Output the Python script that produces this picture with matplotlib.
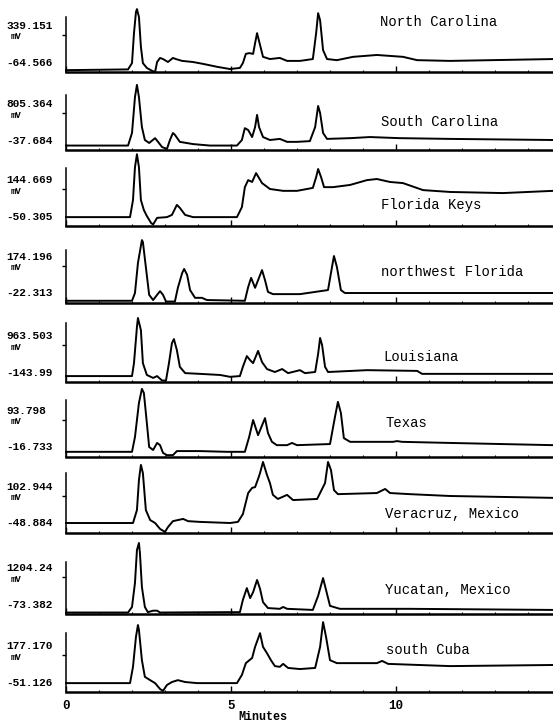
import numpy as np
import matplotlib.pyplot as plt

# retention time (minutes) and detector signal (% of the labelled mV range,
# 0 = lower label, 100 = upper label)
t_nc = [0, 1.88, 2.0, 2.06, 2.12, 2.15, 2.21, 2.27, 2.33, 2.45, 2.61, 2.70, 2.76, 2.85, 2.94, 3.09,
        3.24, 3.33, 3.52, 3.85, 4.15, 4.58, 4.97, 5.27, 5.36, 5.45, 5.55, 5.67, 5.73, 5.79, 5.97,
        6.18, 6.48, 6.70, 7.09, 7.48, 7.58, 7.64, 7.70, 7.79, 7.91, 8.21, 8.70, 9.42, 10.21, 10.64,
        11.64, 14.76]
s_nc = [5, 7, 24, 105, 162, 170, 149, 68, 24, 11, 3, 0, 27, 38, 35, 27, 38, 35, 30, 27, 22, 14, 8,
        11, 24, 49, 51, 49, 78, 105, 41, 35, 38, 30, 30, 35, 105, 159, 140, 59, 35, 32, 41, 46, 41,
        32, 30, 35]

t_sc = [0, 1.88, 2.0, 2.09, 2.15, 2.21, 2.30, 2.39, 2.52, 2.70, 2.79, 2.91, 3.06, 3.15, 3.24, 3.30,
        3.45, 3.85, 4.36, 5.18, 5.33, 5.42, 5.52, 5.64, 5.73, 5.79, 5.85, 5.97, 6.18, 6.48, 6.70,
        7.0, 7.39, 7.55, 7.64, 7.70, 7.79, 7.91, 8.61, 9.21, 10.12, 11.64, 14.76]
s_sc = [12, 12, 46, 143, 176, 143, 62, 27, 19, 32, 22, 8, 3, 27, 46, 41, 22, 16, 12, 12, 27, 59, 54,
        35, 62, 95, 62, 35, 27, 30, 22, 22, 24, 62, 119, 100, 46, 30, 32, 35, 32, 30, 27]

t_fk = [0, 1.94, 2.03, 2.09, 2.15, 2.21, 2.27, 2.36, 2.45, 2.58, 2.64, 2.76, 3.06, 3.21, 3.36, 3.45,
        3.61, 3.85, 5.18, 5.33, 5.42, 5.52, 5.64, 5.76, 5.94, 6.18, 6.58, 7.0, 7.48, 7.58, 7.64,
        7.73, 7.82, 8.09, 8.61, 9.12, 9.42, 9.82, 10.21, 10.82, 11.64, 13.24, 14.76]
s_fk = [24, 24, 70, 159, 194, 159, 70, 43, 27, 8, 4, 22, 24, 30, 57, 49, 30, 24, 24, 51, 105, 124,
        119, 143, 116, 100, 95, 95, 103, 132, 154, 132, 105, 105, 111, 124, 127, 119, 116, 97, 92,
        89, 95]

t_nwf = [0, 2.0, 2.09, 2.18, 2.30, 2.33, 2.42, 2.52, 2.64, 2.76, 2.85, 2.94, 3.03, 3.30, 3.39, 3.52,
         3.58, 3.67, 3.76, 3.91, 4.12, 4.27, 5.42, 5.52, 5.61, 5.73, 5.94, 6.03, 6.12, 6.27, 7.09,
         7.94, 8.06, 8.12, 8.21, 8.33, 8.45, 14.76]
s_nwf = [6, 6, 27, 108, 170, 165, 97, 22, 8, 22, 32, 22, 4, 4, 41, 81, 92, 76, 35, 14, 14, 8, 6, 43,
         68, 41, 89, 62, 30, 24, 24, 35, 97, 127, 97, 35, 27, 27]

t_la = [0, 2.0, 2.06, 2.15, 2.18, 2.27, 2.33, 2.45, 2.64, 2.76, 2.91, 3.03, 3.12, 3.21, 3.27, 3.36,
        3.45, 3.61, 4.06, 4.67, 4.97, 5.27, 5.36, 5.48, 5.58, 5.67, 5.82, 5.94, 6.09, 6.33, 6.55,
        6.73, 7.09, 7.24, 7.55, 7.64, 7.70, 7.76, 7.85, 7.94, 9.12, 10.64, 10.79, 14.76]
s_la = [16, 16, 51, 149, 173, 140, 51, 19, 11, 16, 4, 4, 51, 105, 116, 86, 41, 24, 22, 19, 14, 16,
        41, 70, 59, 51, 84, 54, 35, 27, 35, 24, 32, 24, 27, 76, 119, 100, 41, 27, 32, 30, 22, 22]

t_tx = [0, 2.0, 2.09, 2.21, 2.30, 2.36, 2.45, 2.52, 2.64, 2.76, 2.85, 2.94, 3.06, 3.24, 3.36, 4.06,
        4.88, 5.42, 5.55, 5.67, 5.82, 6.03, 6.12, 6.24, 6.39, 6.70, 6.85, 7.0, 8.0, 8.15, 8.24,
        8.33, 8.42, 8.61, 9.91, 10.03, 10.18, 11.64, 14.76]
s_tx = [14, 14, 54, 146, 184, 173, 92, 27, 19, 38, 32, 11, 5, 5, 16, 16, 14, 14, 54, 100, 59, 105,
        65, 41, 32, 32, 38, 32, 35, 108, 149, 119, 51, 41, 41, 43, 41, 38, 32]

t_vm = [0, 2.03, 2.15, 2.21, 2.27, 2.33, 2.42, 2.55, 2.70, 2.85, 3.0, 3.09, 3.24, 3.39, 3.55, 3.70,
        4.06, 4.97, 5.21, 5.36, 5.52, 5.64, 5.73, 5.82, 5.88, 5.97, 6.09, 6.18, 6.27, 6.42, 6.70,
        6.88, 7.61, 7.85, 7.94, 8.03, 8.12, 8.24, 9.42, 9.67, 9.82, 10.42, 11.64, 14.76]
s_vm = [27, 27, 62, 143, 184, 162, 62, 35, 27, 11, 3, 16, 32, 35, 38, 32, 30, 27, 30, 51, 108, 122,
        124, 146, 162, 192, 157, 135, 103, 92, 103, 89, 92, 135, 192, 170, 116, 105, 108, 119, 108,
        105, 100, 95]

t_ym = [0, 1.88, 2.0, 2.09, 2.15, 2.21, 2.24, 2.30, 2.39, 2.48, 2.64, 2.76, 2.85, 4.88, 5.27, 5.36,
        5.48, 5.58, 5.67, 5.79, 5.88, 5.97, 6.12, 6.48, 6.58, 6.70, 7.48, 7.64, 7.79, 7.88, 8.0,
        8.30, 10.42, 14.76]
s_ym = [4, 4, 19, 84, 173, 192, 165, 73, 19, 5, 9, 9, 4, 5, 5, 38, 70, 43, 59, 92, 68, 32, 16, 14,
        19, 14, 11, 49, 97, 65, 22, 14, 14, 11]

t_cu = [0, 1.94, 2.03, 2.12, 2.18, 2.21, 2.30, 2.39, 2.55, 2.70, 2.85, 2.94, 3.06, 3.21, 3.39, 3.61,
        3.97, 5.18, 5.33, 5.45, 5.64, 5.73, 5.88, 5.97, 6.09, 6.21, 6.33, 6.48, 6.58, 6.73, 7.09,
        7.55, 7.70, 7.79, 7.88, 8.0, 8.21, 9.42, 9.58, 9.76, 11.64, 14.76]
s_cu = [24, 24, 68, 149, 181, 168, 86, 41, 32, 24, 8, 3, 19, 27, 32, 27, 24, 24, 46, 78, 92, 122,
        159, 122, 105, 86, 70, 68, 76, 65, 62, 65, 122, 189, 149, 86, 78, 78, 84, 76, 70, 73]

sites = ['North Carolina', 'South Carolina', 'Florida Keys', 'northwest Florida', 'Louisiana',
         'Texas', 'Veracruz, Mexico', 'Yucatan, Mexico', 'south Cuba']
hi_labels = ['339.151', '805.364', '144.669', '174.196', '963.503', '93.798', '102.944',
             '1204.24', '177.170']
lo_labels = ['-64.566', '-37.684', '-50.305', '-22.313', '-143.99', '-16.733', '-48.884',
             '-73.382', '-51.126']
times = [t_nc, t_sc, t_fk, t_nwf, t_la, t_tx, t_vm, t_ym, t_cu]
signals = [s_nc, s_sc, s_fk, s_nwf, s_la, s_tx, s_vm, s_ym, s_cu]

# layout in pixels of the 553x725 page
W, H = 553, 725
x0 = 66
t_max = (W - x0) / 33.0
axis_y = [72, 150, 226, 303, 382, 457, 533, 614, 692]
spine_h = [55, 55, 58, 53, 59, 57, 60, 52, 59]
tick_h = 37
site_xy = [(380, 22), (381, 122), (381, 205), (381, 272), (383, 357), (385, 423),
           (385, 514), (385, 590), (386, 650)]

fig = plt.figure(figsize=(W / 100, H / 100), dpi=100)
mono = 'Liberation Mono'

for i in range(9):
    lo = float(lo_labels[i])
    hi = float(hi_labels[i])
    mv = lo + np.array(signals[i]) / 100.0 * (hi - lo)

    ax = fig.add_axes([x0 / W, (H - axis_y[i]) / H, (W - x0) / W, spine_h[i] / H])
    ax.patch.set_alpha(0)
    ax.plot(times[i], mv, color='black', lw=1.4, clip_on=False)
    ax.set_xlim(0, t_max)
    ax.set_ylim(lo, lo + spine_h[i] / tick_h * (hi - lo))

    for s in ['top', 'right']:
        ax.spines[s].set_visible(False)
    ax.spines['bottom'].set_linewidth(1.8)
    ax.spines['left'].set_linewidth(1.1)

    ax.set_yticks([hi])
    ax.set_yticklabels([''])
    ax.tick_params(axis='y', direction='out', length=3, width=1)
    ax.set_xticks([0, 5, 10])
    ax.set_xticks(np.arange(1, 15), minor=True)
    ax.tick_params(axis='x', which='major', direction='in', length=4, width=1)
    ax.tick_params(axis='x', which='minor', direction='in', length=1.5, width=0.8)

    # scale labels to the left of the spine
    ax.annotate(hi_labels[i], xy=(0, hi), xycoords=('axes fraction', 'data'),
                xytext=(-60, 9), textcoords='offset pixels', ha='left', va='center',
                family=mono, weight='bold', fontsize=8)
    ax.annotate('mV', xy=(0, hi), xycoords=('axes fraction', 'data'),
                xytext=(-55, -2), textcoords='offset pixels', ha='left', va='center',
                family=mono, weight='bold', fontsize=6.5)
    ax.annotate(lo_labels[i], xy=(0, lo), xycoords=('axes fraction', 'data'),
                xytext=(-60, 9.5), textcoords='offset pixels', ha='left', va='center',
                family=mono, weight='bold', fontsize=8)

    fig.text(site_xy[i][0] / W, 1 - site_xy[i][1] / H, sites[i], family=mono,
             fontsize=10, ha='left', va='center')

    if i < 8:
        ax.set_xticklabels([])
    else:
        ax.set_xticklabels(['0', '5', '10'], family=mono, weight='bold', fontsize=9)
        ax.tick_params(axis='x', which='major', pad=6)

fig.text(263 / W, 1 - 717 / H, 'Minutes', family=mono, weight='bold', fontsize=8.5,
         ha='center', va='center')

fig.savefig('out.png', dpi=100)
